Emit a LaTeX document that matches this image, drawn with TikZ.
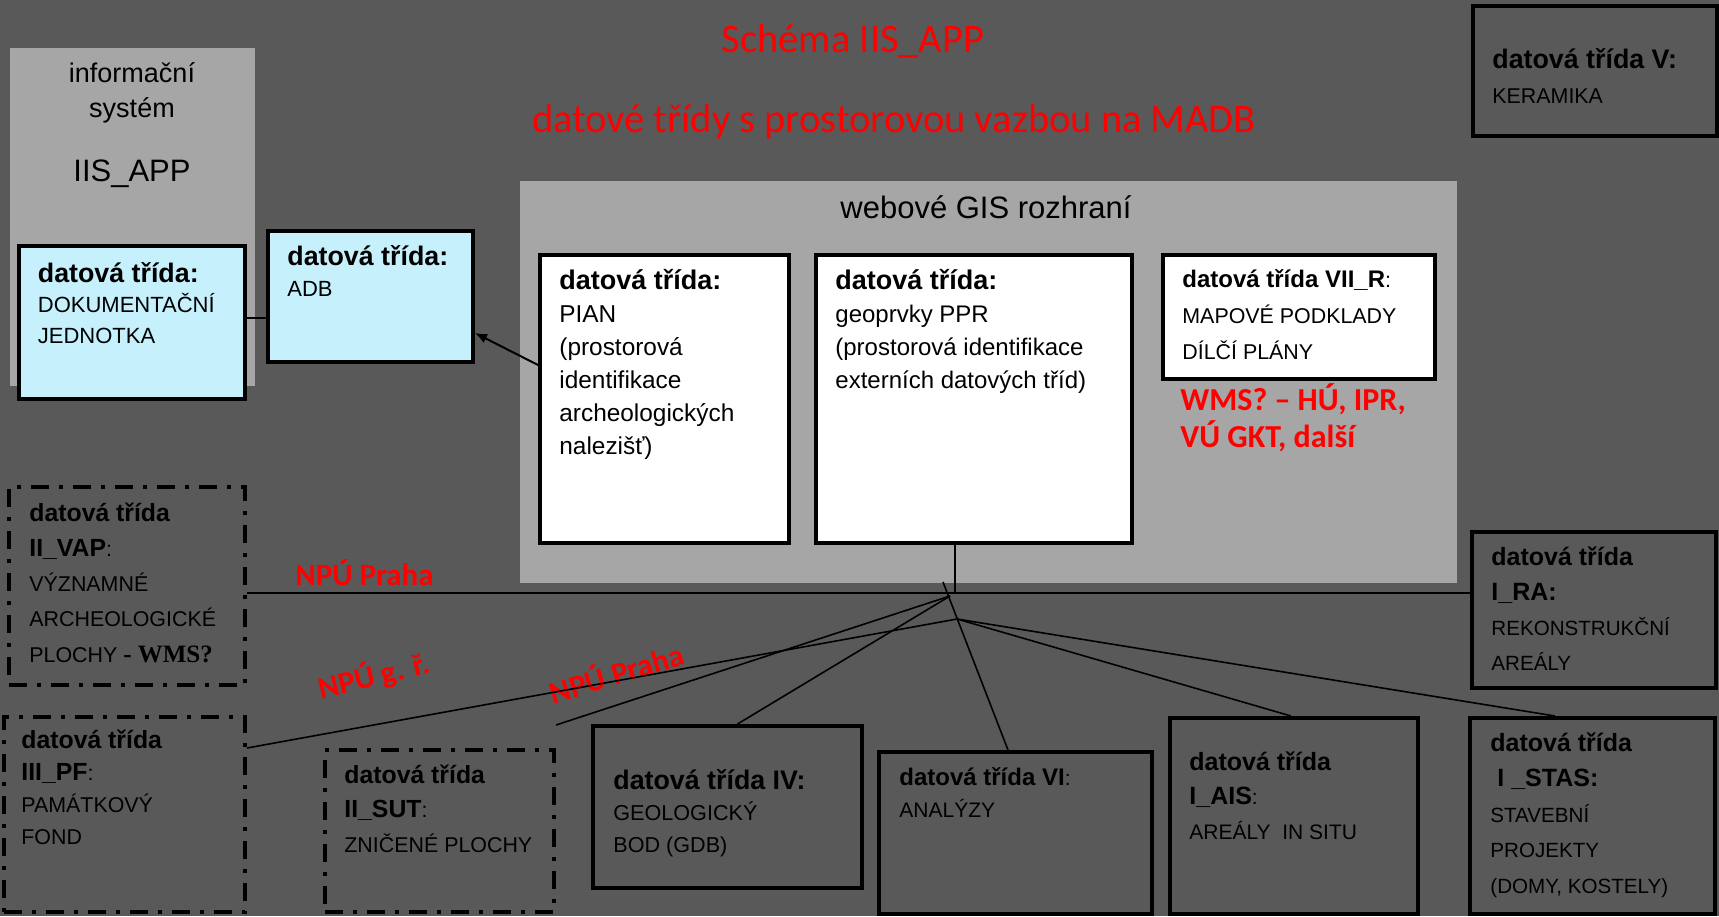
\documentclass[tikz,border=0pt]{standalone}
\usepackage{fontspec}
\setmainfont{Liberation Sans}
\newfontfamily\calfont{Carlito}
\newfontfamily\serfont{Liberation Serif}
\usetikzlibrary{arrows.meta}
\definecolor{bgc}{RGB}{89,89,89}
\definecolor{lgray}{RGB}{166,166,166}
\definecolor{lcyan}{RGB}{198,240,252}
\definecolor{redt}{RGB}{255,0,0}
\newcommand\hd[2][13.4]{{\fontsize{#1}{#1}\selectfont\bfseries #2}}
\newcommand\mybox[6]{\node[#6, minimum width={(#4-#2)*0.5pt}, minimum height={(#5-#3)*0.5pt}] (#1) at ({(#2+#4)/2},{(#3+#5)/2}) {};}
\begin{document}
\begin{tikzpicture}[x=0.5pt,y=-0.5pt,
  lite/.style={fill=lgray, draw=none, inner sep=0pt, outer sep=0pt},
  solidbox/.style={draw=black, line width=2pt, inner sep=0pt},
  cyanbox/.style={solidbox, fill=lcyan},
  whitebox/.style={solidbox, fill=white},
  darkbox/.style={solidbox},
  ddbox/.style={draw=black, line width=2pt, inner sep=0pt, dash pattern=on 9pt off 5pt on 2pt off 5pt},
  txt/.style 2 args={anchor=base west, align=left, inner sep=0pt, font=\fontsize{#1}{#2}\selectfont},
  conn/.style={draw=black, line width=0.8pt},
  arr/.style={draw=black, line width=1pt, -{Latex[length=6pt,width=5pt]}},
  redlbl/.style={text=redt, inner sep=0pt, font=\calfont\bfseries\fontsize{15.5}{15.5}\selectfont},
  title/.style={text=redt, inner sep=0pt, anchor=base, font=\calfont\fontsize{20.25}{20.25}\selectfont}
]
\useasboundingbox (0,0) rectangle (1719,916);
\fill[bgc] (0,0) rectangle (1719,916);

% grey containers
\mybox{iis}{10}{48}{255}{386}{lite}
\mybox{gis}{520}{181}{1457}{583}{lite}

% titles
\node[title] (t1) at (853,52) {Schéma IIS\_APP};
\node[title] (t2) at (894,132) {datové třídy s prostorovou vazbou na MADB};

% IIS labels
\node[anchor=base, inner sep=0pt, font=\fontsize{13.5}{13.5}\selectfont] (iis1) at (132,82) {informační};
\node[anchor=base, inner sep=0pt, font=\fontsize{13.5}{13.5}\selectfont] (iis2) at (132,117) {systém};
\node[anchor=base, inner sep=0pt, font=\fontsize{15.5}{15.5}\selectfont] (iis3) at (132,181) {IIS\_APP};
\node[anchor=base west, inner sep=0pt, font=\fontsize{15.5}{15.5}\selectfont] (gist) at (840,218) {webové GIS rozhraní};

% boxes
\mybox{dok}{19}{246}{245}{399}{cyanbox}
\mybox{adb}{268}{231}{473}{362}{cyanbox}
\mybox{pian}{540}{255}{789}{543}{whitebox}
\mybox{geo}{816}{255}{1132}{543}{whitebox}
\mybox{vii}{1163}{255}{1435}{379}{whitebox}
\mybox{ker}{1473}{6}{1717}{136}{darkbox}
\mybox{vap}{9}{487}{245}{685}{ddbox}
\mybox{pf}{4}{717}{245}{912}{ddbox}
\mybox{sut}{325}{750}{554}{912}{ddbox}
\mybox{iv}{593}{726}{862}{888}{darkbox}
\mybox{vi}{879}{752}{1152}{914}{darkbox}
\mybox{ais}{1170}{718}{1418}{914}{darkbox}
\mybox{stas}{1470}{718}{1715}{914}{darkbox}
\mybox{ra}{1472}{532}{1716}{688}{darkbox}

% box texts (anchored at the baseline of the last line)
\node[txt={11}{15.25}] (dokt) at (37.5,343) {\hd{datová třída:}\\DOKUMENTAČNÍ\\JEDNOTKA};
\node[txt={11}{15.5}] (adbt) at (287,296) {\hd{datová třída:}\\ADB};
\node[txt={12.2}{16.5}] (piant) at (559,454) {\hd[13.5]{datová třída:}\\PIAN\\(prostorová\\identifikace\\archeologických\\nalezišť)};
\node[txt={12}{16.5}] (geot) at (835,388) {\hd[13.5]{datová třída:}\\geoprvky PPR\\(prostorová identifikace\\externích datových tříd)};
\node[txt={10.7}{18}] (viit) at (1182,359) {\hd[12]{datová třída VII\_R}:\\MAPOVÉ PODKLADY\\DÍLČÍ PLÁNY};
\node[anchor=base west, align=left, inner sep=0pt, text=redt, font=\calfont\bfseries\fontsize{16}{18.5}\selectfont] (wms) at (1180,447) {WMS? – HÚ, IPR,\\VÚ GKT, další};
\node[txt={10.7}{17.5}] (kert) at (1492,103) {\hd{datová třída V:}\\KERAMIKA};
\node[txt={10.7}{17.6}] (vapt) at (29,662) {\hd[12.4]{datová třída}\\\hd[12.4]{II\_VAP}:\\VÝZNAMNÉ\\ARCHEOLOGICKÉ\\PLOCHY {\serfont\bfseries\fontsize{12.5}{12}\selectfont - WMS?}};
\node[txt={10.7}{16}] (pft) at (21,844) {\hd[12.4]{datová třída}\\\hd[12.4]{III\_PF}:\\PAMÁTKOVÝ\\FOND};
\node[txt={10.7}{17.25}] (sutt) at (344,852) {\hd[12.4]{datová třída}\\\hd[12.4]{II\_SUT}:\\ZNIČENÉ PLOCHY};
\node[txt={10.8}{15.75}] (ivt) at (613,852) {\hd{datová třída IV:}\\GEOLOGICKÝ\\BOD (GDB)};
\node[txt={10.5}{16}] (vit) at (899,817) {\hd[12]{datová třída VI}:\\ANALÝZY};
\node[txt={10.3}{17.5}] (rat) at (1491,670) {\hd[12.5]{datová třída}\\\hd[12.5]{I\_RA:}\\REKONSTRUKČNÍ\\AREÁLY};
\node[txt={10.5}{17.25}] (aist) at (1189,839) {\hd[12.5]{datová třída}\\\hd[12.5]{I\_AIS}:\\AREÁLY\ \ IN SITU};
\node[txt={10.3}{17.75}] (stast) at (1490,893) {\hd[12.5]{datová třída}\\\hd[12.5]{\hspace*{0.28em}I \_STAS:}\\STAVEBNÍ\\PROJEKTY\\(DOMY, KOSTELY)};

% red labels
\node[redlbl, anchor=base west] (npu1) at (295,585) {NPÚ Praha};
\node[redlbl, rotate=14] (npu2) at (374,676) {NPÚ g. ř.};
\node[redlbl, rotate=17] (npu3) at (616,672) {NPÚ Praha};

% connectors
\coordinate (hub) at (955,593);
\coordinate (A) at (950,596);
\coordinate (B) at (957,619);
\coordinate (vtop) at (943,582);
\draw[conn] (hub |- geo.south) -- (hub);
\draw[conn] (vap.east |- hub) -- (ra.west |- hub);
\draw[conn] ([yshift=-16.5pt]pf.north east) -- (B);
\draw[conn] ([yshift=11.5pt]sut.north east) -- (A);
\draw[conn] ([xshift=5pt]iv.north) -- (A);
\draw[conn] (vtop) -- ([xshift=-3.75pt]vi.north);
\draw[conn] (B) -- ([xshift=-1.5pt]ais.north);
\draw[conn] (B) -- ([xshift=-18.75pt]stas.north);
\draw[conn] ([yshift=2.25pt]dok.east) coordinate (dk) -- (dk -| adb.west);
\draw[arr] ([yshift=17pt]pian.west) -- ([yshift=-18.25pt]adb.east);
\end{tikzpicture}
\end{document}
